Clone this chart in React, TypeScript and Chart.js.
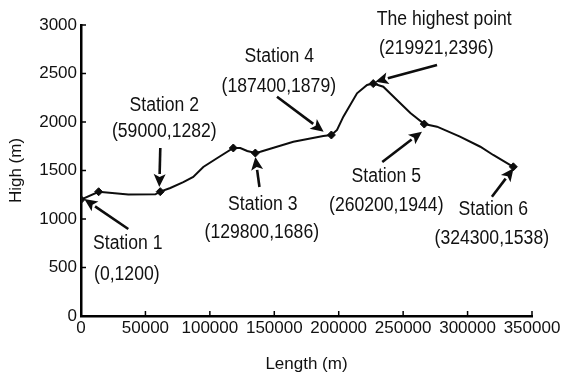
import React, { useEffect, useRef } from "react";
import { Chart, registerables } from "chart.js";

Chart.register(...registerables);

// Elevation profile (length in m, height in m)
const lengths = [0, 13700, 36700, 57700, 61500, 69300, 79400, 87100, 94900, 105800, 118200, 123600, 129000, 135300, 139200, 164800, 188000, 194300, 198700, 203600, 214200, 222000, 226800, 234600, 245200, 255600, 266400, 276300, 294100, 309900, 319900, 335500];
const heights = [1200, 1281, 1253, 1255, 1282, 1320, 1381, 1433, 1536, 1629, 1732, 1732, 1701, 1680, 1694, 1797, 1856, 1866, 1918, 2055, 2296, 2381, 2396, 2364, 2227, 2093, 1979, 1952, 1849, 1745, 1660, 1538];
// indices of points drawn with a marker
const markerIdx = [0, 1, 4, 10, 13, 17, 22, 26, 31];

const xTicks = { min: 0, max: 350000, step: 50000 };
const yTicks = { min: 0, max: 3000, step: 500 };

// Annotation labels (in data coordinates)
const annTitles = ["Station 1", "Station 2", "Station 3", "Station 4", "The highest point", "Station 5", "Station 6"];
const annCoords = ["(0,1200)", "(59000,1282)", "(129800,1686)", "(187400,1879)", "(219921,2396)", "(260200,1944)", "(324300,1538)"];
const annTitlePos = [[36320, 747], [64640, 2175], [141100, 1150], [153900, 2675], [281900, 3062], [236900, 1438], [320000, 1093]];
const annCoordPos = [[35540, 428], [64640, 1907], [140300, 856], [153500, 2371], [275700, 2763], [236900, 1144], [318800, 799]];
const annTail = [[36700, 897], [61540, 1732], [138500, 1330], [152100, 2261], [276300, 2588], [233800, 1588], [318900, 1230]];
const annTip = [[2560, 1206], [60760, 1330], [135300, 1639], [188300, 1900], [228400, 2415], [264600, 1900], [335700, 1523]];

const FONT = "'Liberation Sans', Arial, Helvetica, sans-serif";

const annotationPlugin = {
  id: "annotations",
  afterDraw(chart: any) {
    const { ctx } = chart;
    const xs = chart.scales.x;
    const ys = chart.scales.y;
    const px = (p: number[]) => [xs.getPixelForValue(p[0]), ys.getPixelForValue(p[1])];

    // inward tick marks
    ctx.save();
    ctx.strokeStyle = "#000";
    ctx.lineWidth = 1.5;
    const area = chart.chartArea;
    xs.ticks.forEach((_t: any, i: number) => {
      const x = xs.getPixelForTick(i);
      ctx.beginPath();
      ctx.moveTo(x, area.bottom);
      ctx.lineTo(x, area.bottom - 5);
      ctx.stroke();
    });
    ys.ticks.forEach((_t: any, i: number) => {
      const y = ys.getPixelForTick(i);
      ctx.beginPath();
      ctx.moveTo(area.left, y);
      ctx.lineTo(area.left + 5, y);
      ctx.stroke();
    });
    ctx.restore();

    ctx.save();
    for (let i = 0; i < annTitles.length; i++) {
      const [tx, ty] = px(annTail[i]);
      const [hx, hy] = px(annTip[i]);
      const ang = Math.atan2(hy - ty, hx - tx);
      const headLen = 13;
      const headW = 6;
      const bx = hx - headLen * Math.cos(ang);
      const by = hy - headLen * Math.sin(ang);
      ctx.strokeStyle = "#0d0d0d";
      ctx.fillStyle = "#0d0d0d";
      ctx.lineWidth = 2.6;
      ctx.beginPath();
      ctx.moveTo(tx, ty);
      ctx.lineTo(bx, by);
      ctx.stroke();
      ctx.beginPath();
      ctx.moveTo(hx, hy);
      ctx.lineTo(bx + headW * Math.sin(ang), by - headW * Math.cos(ang));
      ctx.lineTo(bx + 3 * Math.cos(ang), by + 3 * Math.sin(ang));
      ctx.lineTo(bx - headW * Math.sin(ang), by + headW * Math.cos(ang));
      ctx.closePath();
      ctx.fill();

      ctx.font = `20px ${FONT}`;
      ctx.textAlign = "center";
      ctx.textBaseline = "middle";
      ctx.fillStyle = "#111";
      const lines: [string, number[]][] = [[annTitles[i], annTitlePos[i]], [annCoords[i], annCoordPos[i]]];
      lines.forEach(([text, pos]) => {
        const [lx, ly] = px(pos);
        ctx.save();
        ctx.translate(lx, ly);
        ctx.scale(0.88, 1);
        ctx.fillText(text, 0, 0);
        ctx.restore();
      });
    }
    ctx.restore();
  },
};

export default function App() {
  const ref = useRef<HTMLCanvasElement>(null);
  useEffect(() => {
    document.body.style.margin = "0";
    const canvas = ref.current!;
    const data = lengths.map((x, i) => ({ x, y: heights[i] }));
    const chart = new Chart(canvas, {
      type: "line",
      data: {
        datasets: [
          {
            data,
            borderColor: "#0d0d0d",
            borderWidth: 2,
            backgroundColor: "#0d0d0d",
            pointStyle: "rectRot",
            pointRadius: (c: any) => (markerIdx.includes(c.dataIndex) ? 4 : 0),
            pointBorderWidth: 1,
            tension: 0,
            fill: false,
          },
        ],
      },
      options: {
        responsive: false,
        animation: false,
        events: [],
        layout: { padding: { left: 0, top: 25, right: 45, bottom: 0 } },
        plugins: { legend: { display: false }, tooltip: { enabled: false } },
        scales: {
          x: {
            type: "linear",
            min: xTicks.min,
            max: xTicks.max,
            afterFit: (s: any) => { s.height = 63; },
            ticks: {
              stepSize: xTicks.step,
              color: "#111",
              padding: 2,
              maxRotation: 0,
              autoSkip: false,
              font: { family: FONT, size: 17 },
              callback: (v: any) => String(v),
            },
            grid: { display: true, drawOnChartArea: false, drawTicks: false, color: "rgba(0,0,0,0)" },
            border: { display: true, color: "#000", width: 2.5 },
            title: { display: true, text: "Length (m)", color: "#111", font: { family: FONT, size: 17 }, padding: { top: 0, bottom: 4 } },
          },
          y: {
            type: "linear",
            min: yTicks.min,
            max: yTicks.max,
            afterFit: (s: any) => { s.width = 81; },
            ticks: {
              stepSize: yTicks.step,
              color: "#111",
              padding: 4,
              font: { family: FONT, size: 17 },
              callback: (v: any) => String(v),
            },
            grid: { display: true, drawOnChartArea: false, drawTicks: false, color: "rgba(0,0,0,0)" },
            border: { display: true, color: "#000", width: 2.5 },
            title: { display: true, text: "High (m)", color: "#111", font: { family: FONT, size: 17 }, padding: { top: 6, bottom: 0 } },
          },
        },
      },
      plugins: [annotationPlugin],
    });
    return () => chart.destroy();
  }, []);
  return (
    <div style={{ width: 577, height: 379, background: "#fff" }}>
      <canvas ref={ref} width={577} height={379} style={{ display: "block" }} />
    </div>
  );
}
